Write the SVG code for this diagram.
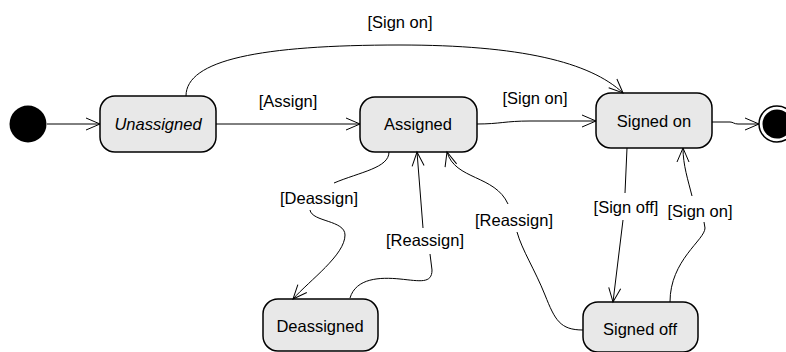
<svg xmlns="http://www.w3.org/2000/svg" width="786" height="352" viewBox="0 0 786 352">
  <defs>
    <marker id="open" viewBox="-15 -8 17 16" refX="0" refY="0" markerWidth="17" markerHeight="16" markerUnits="userSpaceOnUse" orient="auto">
      <path d="M-14,-6 L0,0 L-14,6" fill="none" stroke="#000" stroke-width="1"/>
    </marker>
  </defs>
  <style>
    .state rect { fill: #e8e8e8; stroke: #000; stroke-width: 1.5; }
    .state text { font-family: "Liberation Sans", Arial, sans-serif; font-size: 16.5px; fill: #000; text-anchor: middle; }
    .edge { fill: none; stroke: #000; stroke-width: 1; }
    .arrow { marker-end: url(#open); }
    .label { font-family: "Liberation Sans", Arial, sans-serif; font-size: 16.5px; fill: #000; text-anchor: middle; }
  </style>

  <g id="initial">
    <circle cx="28" cy="124" r="18.5" fill="#000"/>
  </g>
  <g id="final">
    <circle cx="777" cy="124" r="18" fill="#fff" stroke="#000" stroke-width="1.5"/>
    <circle cx="777" cy="124" r="14.5" fill="#000"/>
  </g>

  <g id="unassigned" class="state">
    <rect x="100" y="96" width="116" height="56" rx="15"/>
    <text x="158" y="130" font-style="italic">Unassigned</text>
  </g>
  <g id="assigned" class="state">
    <rect x="360" y="97" width="117" height="55" rx="15"/>
    <text x="418" y="130">Assigned</text>
  </g>
  <g id="signed-on" class="state">
    <rect x="596" y="93" width="116" height="55" rx="15"/>
    <text x="654" y="127">Signed on</text>
  </g>
  <g id="deassigned" class="state">
    <rect x="263" y="299" width="115" height="52" rx="15"/>
    <text x="320" y="332">Deassigned</text>
  </g>
  <g id="signed-off" class="state">
    <rect x="583" y="302" width="115" height="50" rx="15"/>
    <text x="640" y="335">Signed off</text>
  </g>

  <g id="connectors">
    <!-- start -> Unassigned -->
    <path class="edge arrow" d="M47,124 L100,124"/>
    <!-- Unassigned -> Assigned -->
    <path class="edge arrow" d="M216,124 L360,124"/>
    <!-- Assigned -> Signed on -->
    <path class="edge arrow" d="M477,124 C500,124 505,121 530,121 L596,121"/>
    <!-- Unassigned -> Signed on (over the top) -->
    <path class="edge arrow" d="M186,96 C186,60 260,45 400,45 C520,45 590,62 623,93"/>
    <!-- Signed on -> end -> -->
    <path class="edge arrow" d="M712,122 L730,122 C733,122 734,124 738,124 L759,124"/>
    <!-- Assigned -> Deassigned -->
    <path class="edge" d="M389,152 C389,168 360,172 334,183"/>
    <path class="edge arrow" d="M310,210 C312,222 345,220 345,235 C345,255 310,280 293,299"/>
    <!-- Deassigned -> Assigned -->
    <path class="edge" d="M350,298 C356,278 380,277 400,279 C420,281 432,284 432,270 L430,254"/>
    <path class="edge arrow" d="M423,228 L417,152"/>
    <!-- Signed off -> Assigned -->
    <path class="edge" d="M583,330 C560,330 555,320 545,295 C535,270 522,250 517,232"/>
    <path class="edge arrow" d="M508,204 C495,175 455,180 447,152"/>
    <!-- Signed on -> Signed off -->
    <path class="edge" d="M627,148 L625,193"/>
    <path class="edge arrow" d="M623,220 L613,302"/>
    <!-- Signed off -> Signed on -->
    <path class="edge" d="M670,302 C670,260 705,240 705,228 L704,222"/>
    <path class="edge arrow" d="M692,196 C688,180 683,165 683,148"/>
  </g>

  <g id="labels">
    <text class="label" x="400" y="28">[Sign on]</text>
    <text class="label" x="288" y="107">[Assign]</text>
    <text class="label" x="535" y="104">[Sign on]</text>
    <text class="label" x="319" y="204">[Deassign]</text>
    <text class="label" x="425" y="246">[Reassign]</text>
    <text class="label" x="514" y="226">[Reassign]</text>
    <text class="label" x="626" y="213">[Sign off]</text>
    <text class="label" x="700" y="217">[Sign on]</text>
  </g>
</svg>
